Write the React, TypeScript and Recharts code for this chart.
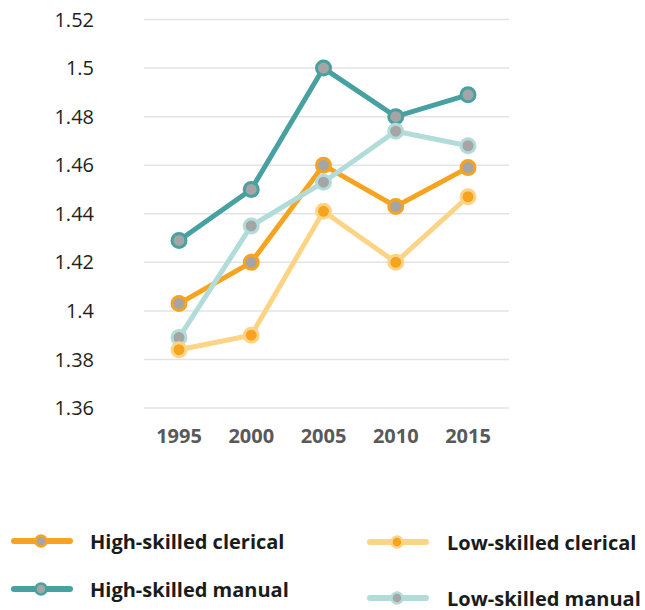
import React from 'react';
import { LineChart, Line, XAxis, YAxis, CartesianGrid } from 'recharts';

const years = ['1995', '2000', '2005', '2010', '2015'];
const highClerical = [1.403, 1.42, 1.46, 1.443, 1.459];
const highManual = [1.429, 1.45, 1.5, 1.48, 1.489];
const lowClerical = [1.384, 1.39, 1.441, 1.42, 1.447];
const lowManual = [1.389, 1.435, 1.453, 1.474, 1.468];
const yTicks = [1.36, 1.38, 1.4, 1.42, 1.44, 1.46, 1.48, 1.5, 1.52];

const ORANGE = '#f6a41f';
const TEAL = '#47a1a1';
const LIGHT_ORANGE = '#fdd485';
const LIGHT_TEAL = '#b2dcda';
const GRAY = '#a5a5a6';
const FONT = '"Open Sans", sans-serif';

const data = years.map((year, i) => ({
  year,
  highClerical: highClerical[i],
  highManual: highManual[i],
  lowClerical: lowClerical[i],
  lowManual: lowManual[i],
}));

// legend rows: label, line colour, dot fill, dot stroke, position
const legendItems = [
  { label: 'High-skilled clerical', line: ORANGE, fill: GRAY, stroke: ORANGE, x: 11, y: 541 },
  { label: 'High-skilled manual', line: TEAL, fill: GRAY, stroke: TEAL, x: 11, y: 589 },
  { label: 'Low-skilled clerical', line: LIGHT_ORANGE, fill: ORANGE, stroke: LIGHT_ORANGE, x: 367, y: 542 },
  { label: 'Low-skilled manual', line: LIGHT_TEAL, fill: GRAY, stroke: LIGHT_TEAL, x: 367, y: 598 },
];

function LegendItem({ label, line, fill, stroke, x, y }: any) {
  return (
    <div style={{ position: 'absolute', left: x, top: y - 15, height: 30, display: 'flex', alignItems: 'center' }}>
      <svg width={62} height={30}>
        <line x1={3} y1={15} x2={59} y2={15} stroke={line} strokeWidth={6} strokeLinecap="round" />
        <circle cx={30} cy={15} r={5.5} fill={fill} stroke={stroke} strokeWidth={2.5} />
      </svg>
      <span
        style={{
          marginLeft: x > 300 ? 18 : 17,
          fontFamily: FONT,
          fontWeight: 700,
          fontSize: 20,
          color: '#1b1b1b',
          whiteSpace: 'nowrap',
        }}
      >
        {label}
      </span>
    </div>
  );
}

const series = [
  { key: 'highClerical', line: ORANGE, fill: GRAY },
  { key: 'highManual', line: TEAL, fill: GRAY },
  { key: 'lowManual', line: LIGHT_TEAL, fill: GRAY },
  { key: 'lowClerical', line: LIGHT_ORANGE, fill: ORANGE },
];

export default function App() {
  return (
    <div style={{ position: 'absolute', left: 0, top: 0, width: 645, height: 610, background: '#fff' }}>
      <LineChart width={645} height={470} data={data} margin={{ top: 19.5, right: 136, bottom: 0, left: 0 }}>
        <CartesianGrid vertical={false} stroke="#e3e3e3" strokeWidth={1.5} />
        <XAxis
          dataKey="year"
          axisLine={false}
          tickLine={false}
          tickSize={0}
          tickMargin={21}
          height={62}
          padding={{ left: 35, right: 41 }}
          tick={{ fill: '#58595b', fontSize: 20, fontWeight: 700, fontFamily: FONT }}
        />
        <YAxis
          domain={[1.36, 1.52]}
          ticks={yTicks}
          axisLine={false}
          tickLine={false}
          tickSize={0}
          tickMargin={50}
          width={144}
          tick={{ fill: '#231f20', fontSize: 20, fontFamily: FONT }}
        />
        {series.map((s) => (
          <Line
            key={s.key}
            type="linear"
            dataKey={s.key}
            stroke={s.line}
            strokeWidth={5}
            dot={{ r: 7, fill: s.fill, stroke: s.line, strokeWidth: 3 }}
            activeDot={false}
            isAnimationActive={false}
          />
        ))}
      </LineChart>
      {legendItems.map((item) => (
        <LegendItem key={item.label} {...item} />
      ))}
    </div>
  );
}
